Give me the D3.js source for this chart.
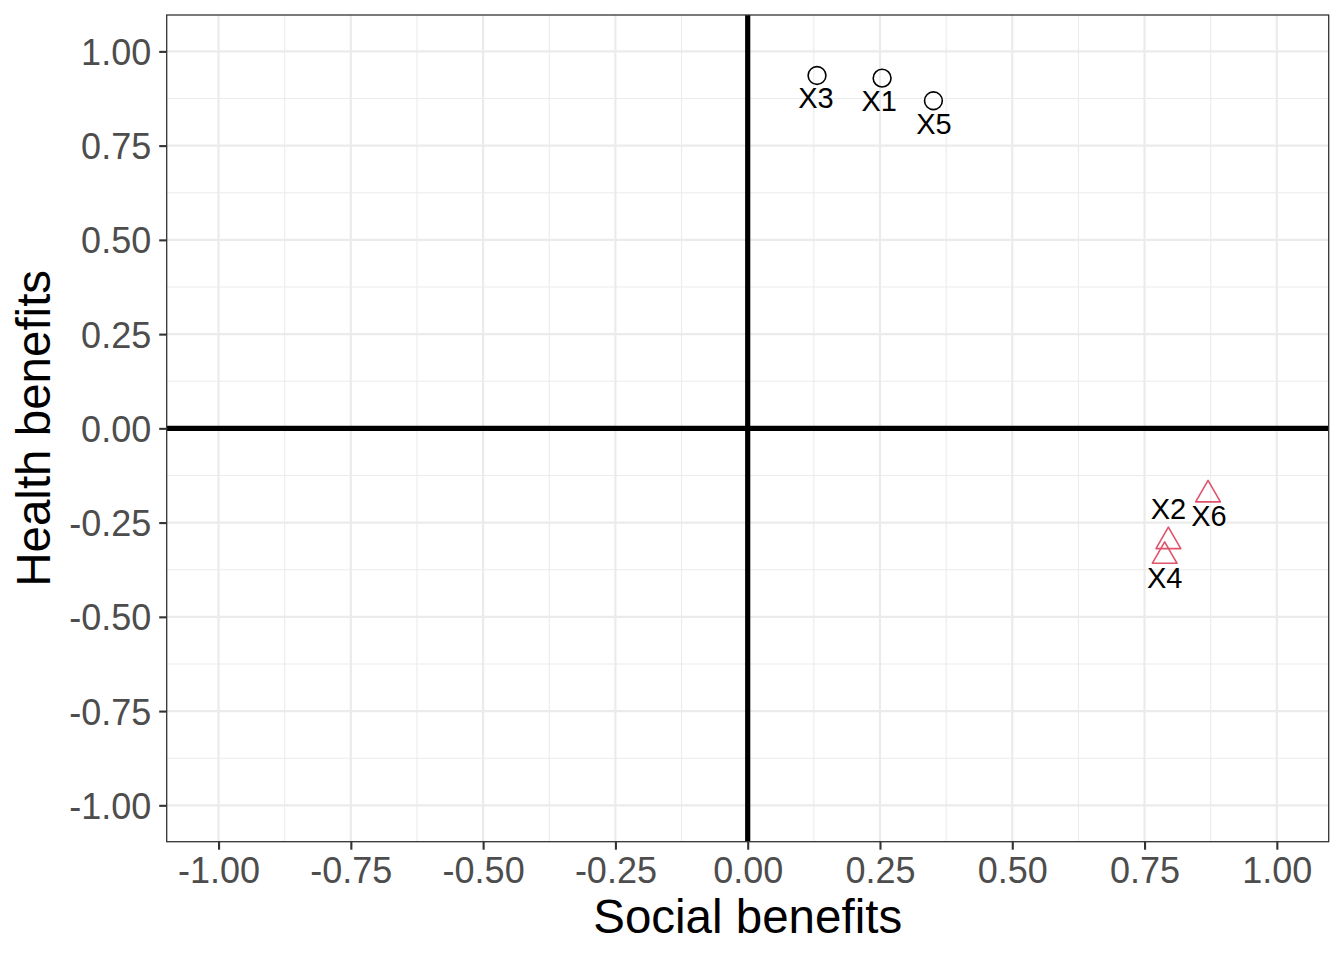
<!DOCTYPE html>
<html>
<head>
<meta charset="utf-8">
<script src="https://cdn.jsdelivr.net/npm/d3@7"></script>
<style>
  html, body { margin: 0; padding: 0; background: #fff; }
  svg { display: block; font-family: "Liberation Sans", Arial, Helvetica, sans-serif; }
</style>
</head>
<body>
<svg id="chart" width="1344" height="960"></svg>
<script>
// ---- data ----
const names  = ["X1", "X2", "X3", "X4", "X5", "X6"];
const social = [0.254, 0.795, 0.131, 0.788, 0.351, 0.870];
const health = [0.929, -0.300, 0.936, -0.339, 0.869, -0.176];
const group  = ["circle", "triangle", "circle", "triangle", "circle", "triangle"];
// label anchor positions (data units, as placed in the original)
const labelSocial = [0.2485, 0.7952, 0.1291, 0.7880, 0.3519, 0.8717];
const labelHealth = [0.8706, -0.2125, 0.8777, -0.3947, 0.8090, -0.2321];
const xTicks = [-1.00, -0.75, -0.50, -0.25, 0.00, 0.25, 0.50, 0.75, 1.00];
const yTicks = [-1.00, -0.75, -0.50, -0.25, 0.00, 0.25, 0.50, 0.75, 1.00];
const xMinor = [-1.125, -0.875, -0.625, -0.375, -0.125, 0.125, 0.375, 0.625, 0.875, 1.125];
const yMinor = [-1.125, -0.875, -0.625, -0.375, -0.125, 0.125, 0.375, 0.625, 0.875, 1.125];
const xTitle = "Social benefits";
const yTitle = "Health benefits";

const rows = names.map((n, i) => ({
  name: n, x: social[i], y: health[i], g: group[i], lx: labelSocial[i], ly: labelHealth[i]
}));

// ---- layout ----
const panel = { left: 166.7, right: 1328.7, top: 15, bottom: 841.7 };
const svg = d3.select("#chart");

const x = d3.scaleLinear().domain([-1.098, 1.098]).range([panel.left, panel.right]);
const y = d3.scaleLinear().domain([-1.0965, 1.0965]).range([panel.bottom, panel.top]);

const colors = { circle: "#000000", triangle: "#DF536B" };

const plot = svg.append("g");
const clipId = "pclip";
svg.append("defs").append("clipPath").attr("id", clipId)
  .append("rect").attr("x", panel.left).attr("y", panel.top)
  .attr("width", panel.right - panel.left).attr("height", panel.bottom - panel.top);

const grid = plot.append("g").attr("clip-path", `url(#${clipId})`);
// minor grid
grid.selectAll(".xminor").data(xMinor).join("line")
  .attr("x1", d => x(d)).attr("x2", d => x(d))
  .attr("y1", panel.top).attr("y2", panel.bottom)
  .attr("stroke", "#EBEBEB").attr("stroke-width", 1.1);
grid.selectAll(".yminor").data(yMinor).join("line")
  .attr("y1", d => y(d)).attr("y2", d => y(d))
  .attr("x1", panel.left).attr("x2", panel.right)
  .attr("stroke", "#EBEBEB").attr("stroke-width", 1.1);
// major grid
grid.selectAll(".xmajor").data(xTicks).join("line")
  .attr("x1", d => x(d)).attr("x2", d => x(d))
  .attr("y1", panel.top).attr("y2", panel.bottom)
  .attr("stroke", "#EBEBEB").attr("stroke-width", 2.2);
grid.selectAll(".ymajor").data(yTicks).join("line")
  .attr("y1", d => y(d)).attr("y2", d => y(d))
  .attr("x1", panel.left).attr("x2", panel.right)
  .attr("stroke", "#EBEBEB").attr("stroke-width", 2.2);

// zero reference lines
grid.append("line")
  .attr("x1", panel.left).attr("x2", panel.right)
  .attr("y1", y(0)).attr("y2", y(0))
  .attr("stroke", "#000").attr("stroke-width", 5.2);
grid.append("line")
  .attr("x1", x(0)).attr("x2", x(0))
  .attr("y1", panel.top).attr("y2", panel.bottom)
  .attr("stroke", "#000").attr("stroke-width", 5.2);

// points
const R = 9.2;
const triR = R * 1.5551, triXc = R * 1.3468, triYc = R * 0.7776;
const pts = grid.append("g");
rows.forEach(d => {
  if (d.g === "circle") {
    pts.append("circle")
      .attr("cx", x(d.x)).attr("cy", y(d.y)).attr("r", R - 0.3)
      .attr("fill", "none").attr("stroke", colors.circle).attr("stroke-width", 1.6);
  } else {
    const cx = x(d.x), cy = y(d.y);
    pts.append("path")
      .attr("d", `M${cx},${cy - triR}L${cx + triXc},${cy + triYc}L${cx - triXc},${cy + triYc}Z`)
      .attr("fill", "none").attr("stroke", colors.triangle).attr("stroke-width", 1.6)
      .attr("stroke-linejoin", "round");
  }
});

// labels
grid.append("g").selectAll("text").data(rows).join("text")
  .attr("x", d => x(d.lx)).attr("y", d => y(d.ly))
  .attr("dy", "0.36em")
  .attr("text-anchor", "middle")
  .attr("font-size", 29)
  .attr("fill", "#000")
  .text(d => d.name);

// panel border
svg.append("rect")
  .attr("x", panel.left).attr("y", panel.top)
  .attr("width", panel.right - panel.left).attr("height", panel.bottom - panel.top)
  .attr("fill", "none").attr("stroke", "#333333").attr("stroke-width", 1.3);

// axes
const fmt = d => d3.format(".2f")(d).replace("\u2212", "-");
const xAxis = svg.append("g").attr("transform", `translate(0,${panel.bottom})`)
  .call(d3.axisBottom(x).tickValues(xTicks).tickFormat(fmt).tickSizeOuter(0).tickSizeInner(8).tickPadding(5));
const yAxis = svg.append("g").attr("transform", `translate(${panel.left},0)`)
  .call(d3.axisLeft(y).tickValues(yTicks).tickFormat(fmt).tickSizeOuter(0).tickSizeInner(7.5).tickPadding(8));
[xAxis, yAxis].forEach(a => {
  a.select(".domain").remove();
  a.selectAll(".tick line").attr("stroke", "#333333").attr("stroke-width", 2.1);
  a.selectAll(".tick text")
    .attr("fill", "#4D4D4D")
    .attr("font-size", 36)
    .attr("font-family", "'Liberation Sans', Arial, Helvetica, sans-serif");
});
xAxis.selectAll(".tick text").attr("dy", null).attr("y", 41);
yAxis.selectAll(".tick text").attr("dy", "0.36em");

// axis titles
svg.append("text")
  .attr("x", (panel.left + panel.right) / 2).attr("y", 933)
  .attr("text-anchor", "middle")
  .attr("font-size", 47.5).attr("fill", "#000")
  .text(xTitle);
svg.append("text")
  .attr("transform", `translate(50,${(panel.top + panel.bottom) / 2}) rotate(-90)`)
  .attr("text-anchor", "middle")
  .attr("font-size", 47.5).attr("fill", "#000")
  .text(yTitle);
</script>
</body>
</html>
